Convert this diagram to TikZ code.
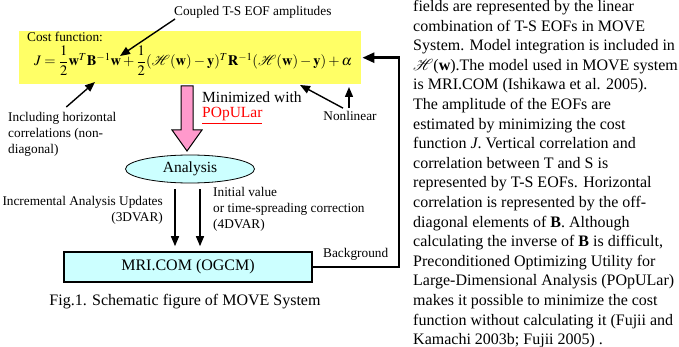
\documentclass[tikz,border=0pt]{standalone}
\usepackage{amsmath}
\usepackage{mathptmx}
\usepackage{fontspec}
\setmainfont{Liberation Serif}
\usetikzlibrary{arrows.meta,shapes.geometric}
\definecolor{eqyellow}{RGB}{255,255,102}
\definecolor{boxcyan}{RGB}{204,255,255}
\definecolor{blockpink}{RGB}{255,153,204}

\begin{document}
\begin{tikzpicture}[x=1pt,y=-1pt,
  lbl/.style={font=\fontsize{13.3}{16}\selectfont, inner sep=0pt},
  big/.style={font=\fontsize{15.5}{18}\selectfont, inner sep=0pt},
  arr/.style={-{Triangle[length=10pt,width=8pt]}, line width=1.4pt},
  fbarr/.style={-{Triangle[length=12pt,width=10pt]}, line width=2.6pt}]
\useasboundingbox (0,0) rectangle (679,347);
% cost function
\node[fill=eqyellow, minimum width=342pt, minimum height=53pt, anchor=north west, inner sep=0pt] (costbox) at (19,31) {};
\node[lbl, anchor=north west] (costlbl) at (27,32) {Cost function:};
\node[font=\fontsize{14.5}{17}\selectfont, inner sep=0pt] (eq) at (193,61)
  {$J=\dfrac{1}{2}\mathbf{w}^{T}\mathbf{B}^{-1}\mathbf{w}+\dfrac{1}{2}(\mathcal{H}(\mathbf{w})-\mathbf{y})^{T}\mathbf{R}^{-1}(\mathcal{H}(\mathbf{w})-\mathbf{y})+\alpha$};
\coordinate (wpt) at (120,56);
\coordinate (bpt) at (95,82);
\coordinate (hpt) at (300,85);
\coordinate (alphapt) at (349,87);
% labels on the cost function
\node[lbl, anchor=south west] (coupled) at (174,19) {Coupled T-S EOF amplitudes};
\draw[arr] ([xshift=1pt]coupled.south west) -- (wpt);
\node[lbl, anchor=north west, align=left, font=\fontsize{13.3}{16}\selectfont] (incl) at (8,112)
  {Including horizontal\\correlations (non-\\diagonal)};
\draw[arr] ([xshift=4pt,yshift=5pt]incl.north) -- (bpt);
\node[lbl] (nonlin) at (350,116) {Nonlinear};
\draw[arr] ([xshift=-7pt,yshift=3pt]nonlin.north) -- (hpt);
\draw[arr] ([yshift=3pt]nonlin.north -| alphapt) -- (alphapt);
% minimization
\draw[fill=blockpink, line width=1pt] (181,86) -- (193,86) -- (193,130) -- (202,130)
  -- (187,151) -- (172,130) -- (181,130) -- cycle;
\node[big, anchor=west] (minim) at (202,97) {Minimized with};
\node[big, anchor=west, text=red] (popular) at (202,116) {\underline{POpULar}};
\node[ellipse, draw, fill=boxcyan, line width=0.8pt, minimum width=129pt, minimum height=28pt, inner sep=0pt, big] (ana) at (190,169) {Analysis};
% model
\node[draw, fill=boxcyan, line width=1.6pt, minimum width=248pt, minimum height=30pt, inner sep=0pt, font=\fontsize{16}{18}\selectfont] (mri) at (188,267) {MRI.COM (OGCM)};
\draw[arr, shorten <=6pt, shorten >=5pt] ([xshift=-15pt]ana.south) -- ([xshift=-15pt]ana.south |- mri.north);
\draw[arr, shorten <=6pt, shorten >=5pt] ([xshift=10pt]ana.south) -- ([xshift=10pt]ana.south |- mri.north);
\node[lbl, anchor=north east, align=right] (incr) at (163,196) {Incremental Analysis Updates\\(3DVAR)};
\node[lbl, anchor=north west, align=left] (init) at (213,187) {Initial value\\or time-spreading correction\\(4DVAR)};
\node[lbl, anchor=west] (bg) at (323,254) {Background};
\draw[fbarr] (mri.east) -- ++(86,0) |- ([xshift=1pt]costbox.east);
% caption
\node[font=\fontsize{16}{18}\selectfont, inner sep=0pt] (caption) at (185,302) {Fig.1. Schematic figure of MOVE System};
% body text
\node[anchor=north west, align=left, inner sep=0pt, font=\fontsize{16}{19.6}\selectfont] (body) at (413,0)
  {fields are represented by the linear\\
   combination of T-S EOFs in MOVE\\
   System. Model integration is included in\\
   $\mathcal{H}$(\textbf{w}).The model used in MOVE system\\
   is MRI.COM (Ishikawa et al. 2005).\\
   The amplitude of the EOFs are\\
   estimated by minimizing the cost\\
   function \textit{J}. Vertical correlation and\\
   correlation between T and S is\\
   represented by T-S EOFs. Horizontal\\
   correlation is represented by the off-\\
   diagonal elements of \textbf{B}. Although\\
   calculating the inverse of \textbf{B} is difficult,\\
   Preconditioned Optimizing Utility for\\
   Large-Dimensional Analysis (POpULar)\\
   makes it possible to minimize the cost\\
   function without calculating it (Fujii and\\
   Kamachi 2003b; Fujii 2005) .};
\end{tikzpicture}
\end{document}
